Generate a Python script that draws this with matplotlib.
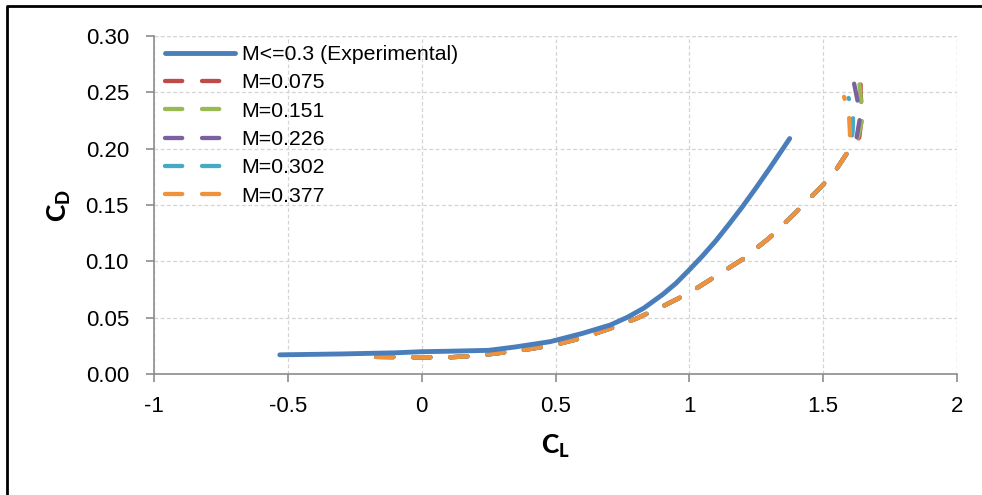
import matplotlib
matplotlib.use("Agg")
import matplotlib.pyplot as plt
from matplotlib.lines import Line2D

plt.rcParams['font.family'] = ['Liberation Sans', 'DejaVu Sans']
plt.rcParams['mathtext.fontset'] = 'custom'
plt.rcParams['mathtext.bf'] = 'Lato:black'
plt.rcParams['mathtext.rm'] = 'Lato'

# ---- data ----
cl_exp = [-0.53, -0.3, -0.1, 0.0, 0.1, 0.25, 0.35, 0.48, 0.6, 0.705, 0.77, 0.83, 0.9, 0.95, 1.0,
          1.05, 1.1, 1.15, 1.2, 1.25, 1.3, 1.375]
cd_exp = [0.0170, 0.0178, 0.0188, 0.0198, 0.0202, 0.0210, 0.0240, 0.0287, 0.0360, 0.0435, 0.0505,
          0.0585, 0.0705, 0.0805, 0.0925, 0.1050, 0.1185, 0.1335, 0.1490, 0.1655, 0.1825, 0.2090]

# shared low-CL part of the computed polars
cl_base = [-0.17, -0.1, 0.0, 0.1, 0.2, 0.28, 0.4, 0.5, 0.6, 0.7, 0.8, 0.9, 1.0, 1.1, 1.2, 1.3, 1.4, 1.5, 1.55, 1.6]
cd_base = [0.0152, 0.0150, 0.0148, 0.0148, 0.0160, 0.0183, 0.0220, 0.0260, 0.0320, 0.0400, 0.0490,
           0.0600, 0.0720, 0.0870, 0.1020, 0.1210, 0.1440, 0.1680, 0.1820, 0.2000]

# near-stall tails for each Mach number
cl_tail_075 = [1.635, 1.645, 1.640, 1.640]
cd_tail_075 = [0.210, 0.230, 0.250, 0.270]
cl_tail_151 = [1.630, 1.650, 1.640, 1.632]
cd_tail_151 = [0.210, 0.230, 0.245, 0.267]
cl_tail_226 = [1.625, 1.638, 1.628, 1.612]
cd_tail_226 = [0.210, 0.228, 0.243, 0.262]
cl_tail_302 = [1.610, 1.612, 1.595]
cd_tail_302 = [0.215, 0.232, 0.245]
cl_tail_377 = [1.600, 1.596, 1.578]
cd_tail_377 = [0.215, 0.232, 0.246]

labels = ['M<=0.3 (Experimental)', 'M=0.075', 'M=0.151', 'M=0.226', 'M=0.302', 'M=0.377']
colors = ['#4A7EBB', '#BE4B48', '#98B954', '#7D60A0', '#46AAC5', '#F0913C']

x_ticks = [-1, -0.5, 0, 0.5, 1, 1.5, 2]
x_tick_labels = ['-1', '-0.5', '0', '0.5', '1', '1.5', '2']
y_ticks = [0.00, 0.05, 0.10, 0.15, 0.20, 0.25, 0.30]
y_tick_labels = ['0.00', '0.05', '0.10', '0.15', '0.20', '0.25', '0.30']

tails = [(cl_tail_075, cd_tail_075), (cl_tail_151, cd_tail_151), (cl_tail_226, cd_tail_226),
         (cl_tail_302, cd_tail_302), (cl_tail_377, cd_tail_377)]

# ---- plot ----
fig = plt.figure(figsize=(9.82, 4.95), dpi=100)
ax_l, ax_r, ax_t, ax_b = 154, 957, 36, 374
ax = fig.add_axes([ax_l/982, 1-ax_b/495, (ax_r-ax_l)/982, (ax_b-ax_t)/495])

handles = []
h, = ax.plot(cl_exp, cd_exp, color=colors[0], lw=3.5, solid_capstyle='round',
             solid_joinstyle='round', zorder=4)
handles.append(h)
for i, (tc, td) in enumerate(tails):
    x = cl_base + tc
    y = cd_base + td
    h, = ax.plot(x, y, color=colors[i+1], lw=3.1, dashes=(4.0, 4.6),
                 dash_capstyle='round', dash_joinstyle='round', zorder=3)
    handles.append(h)

ax.set_xlim(-1, 2)
ax.set_ylim(0, 0.30)
ax.set_xticks(x_ticks)
ax.set_xticklabels(x_tick_labels)
ax.set_yticks(y_ticks)
ax.set_yticklabels(y_tick_labels)
grid_kw = dict(color='#D4D4D4', ls=(0, (3, 2)), lw=0.9)
ax.grid(True, **grid_kw)
ax.set_axisbelow(True)
for s in ['top', 'right']:
    ax.spines[s].set_visible(False)
for s in ['left', 'bottom']:
    ax.spines[s].set_color('#8C8C8C')
    ax.spines[s].set_linewidth(1.2)
ax.tick_params(axis='both', colors='#8C8C8C', length=6, width=1.2, direction='out',
               labelcolor='#000000', labelsize=16)
ax.tick_params(axis='y', pad=12)
ax.tick_params(axis='x', pad=10)

# top/right boundary gridlines
ax.axhline(0.30, zorder=0.5, **grid_kw)
ax.axvline(2.0, zorder=0.5, **grid_kw)

ax.set_xlabel(r'$\mathbf{C_L}$', fontsize=19, labelpad=11)
ax.set_ylabel(r'$\mathbf{C_D}$', fontsize=19, labelpad=9)

leg = ax.legend(handles, labels, loc='upper left',
                bbox_to_anchor=(11/(ax_r-ax_l), 1 - 9/(ax_b-ax_t)),
                frameon=False, fontsize=15.3, handlelength=3.3, handletextpad=0.3,
                labelspacing=0.44, borderaxespad=0.0, borderpad=0.0)

# outer frame (left and top edges visible)
fig.add_artist(Line2D([7/982, 7/982, 1.0], [0.0, 1-6/495, 1-6/495],
                      transform=fig.transFigure, color='black', lw=2))

fig.savefig('out.png', dpi=100, facecolor='white')
